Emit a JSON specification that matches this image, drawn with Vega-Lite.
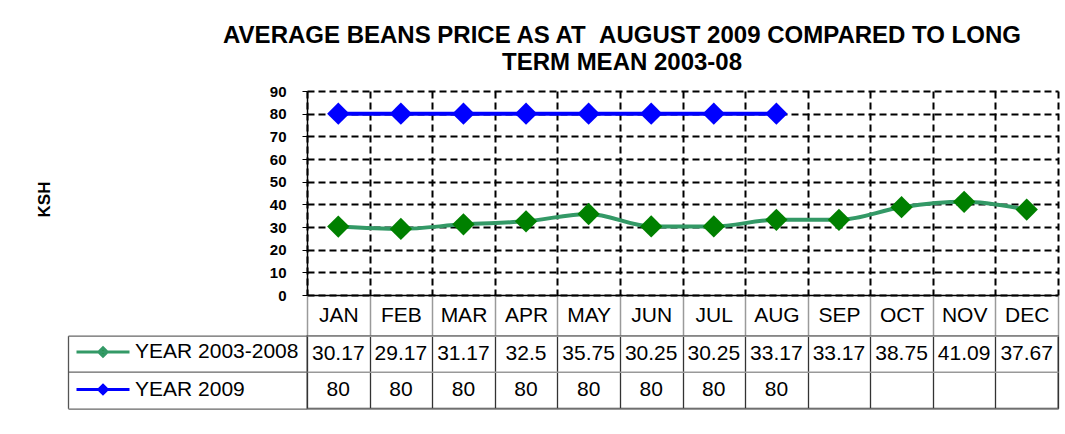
{
  "$schema": "https://vega.github.io/schema/vega-lite/v6.json",
  "autosize": "none",
  "padding": {"left": 307, "top": 91, "right": 758, "bottom": 343},
  "background": "white",
  "config": {
    "font": "Liberation Sans",
    "view": {"stroke": null},
    "axis": {"labelColor": "#000", "titleColor": "#000"}
  },
  "title": {
    "text": ["AVERAGE BEANS PRICE AS AT \u00a0AUGUST 2009 COMPARED TO LONG", "TERM MEAN 2003-08"],
    "fontSize": 24,
    "fontWeight": "bold",
    "color": "#000",
    "lineHeight": 27,
    "anchor": "start",
    "frame": "group",
    "align": "center",
    "dx": 315,
    "offset": 9
  },
  "data": {
    "values": [
      {"month": "JAN", "m": 1, "series": "YEAR 2003-2008", "price": 30.17},
      {"month": "FEB", "m": 2, "series": "YEAR 2003-2008", "price": 29.17},
      {"month": "MAR", "m": 3, "series": "YEAR 2003-2008", "price": 31.17},
      {"month": "APR", "m": 4, "series": "YEAR 2003-2008", "price": 32.5},
      {"month": "MAY", "m": 5, "series": "YEAR 2003-2008", "price": 35.75},
      {"month": "JUN", "m": 6, "series": "YEAR 2003-2008", "price": 30.25},
      {"month": "JUL", "m": 7, "series": "YEAR 2003-2008", "price": 30.25},
      {"month": "AUG", "m": 8, "series": "YEAR 2003-2008", "price": 33.17},
      {"month": "SEP", "m": 9, "series": "YEAR 2003-2008", "price": 33.17},
      {"month": "OCT", "m": 10, "series": "YEAR 2003-2008", "price": 38.75},
      {"month": "NOV", "m": 11, "series": "YEAR 2003-2008", "price": 41.09},
      {"month": "DEC", "m": 12, "series": "YEAR 2003-2008", "price": 37.67},
      {"month": "JAN", "m": 1, "series": "YEAR 2009", "price": 80},
      {"month": "FEB", "m": 2, "series": "YEAR 2009", "price": 80},
      {"month": "MAR", "m": 3, "series": "YEAR 2009", "price": 80},
      {"month": "APR", "m": 4, "series": "YEAR 2009", "price": 80},
      {"month": "MAY", "m": 5, "series": "YEAR 2009", "price": 80},
      {"month": "JUN", "m": 6, "series": "YEAR 2009", "price": 80},
      {"month": "JUL", "m": 7, "series": "YEAR 2009", "price": 80},
      {"month": "AUG", "m": 8, "series": "YEAR 2009", "price": 80}
    ]
  },
  "bounds": "flush",
  "spacing": 40.7,
  "vconcat": [
    {
      "width": 751,
      "height": 204,
      "encoding": {
        "x": {
          "field": "month", "type": "nominal",
          "sort": ["JAN","FEB","MAR","APR","MAY","JUN","JUL","AUG","SEP","OCT","NOV","DEC"],
          "scale": {"type": "band", "paddingInner": 0, "paddingOuter": 0},
          "axis": {
            "title": null, "tickBand": "extent", "labelAngle": 0, "labelFontSize": 21,
            "labelBaseline": "middle", "labelPadding": -20.5, "tickSize": 40.7,
            "tickColor": "#9a9a9a", "tickWidth": 1.5, "domainColor": "#000", "domainWidth": 1.5,
            "grid": true, "gridColor": "#000", "gridDash": [7, 4], "gridWidth": 2, "gridOpacity": 1
          }
        },
        "y": {
          "field": "price", "type": "quantitative",
          "scale": {"domain": [0, 90], "nice": false},
          "axis": {
            "title": "KSH", "values": [0,10,20,30,40,50,60,70,80,90],
            "labelFontSize": 15, "labelFontWeight": "bold", "labelPadding": 16,
            "tickSize": 5, "tickColor": "#000", "domainColor": "#000", "domainWidth": 1.5,
            "grid": true, "gridColor": "#000", "gridDash": [7, 4], "gridWidth": 2, "gridOpacity": 1,
            "titleFontSize": 17, "titleFontWeight": "bold", "titleX": -263, "titleY": 108,
            "titleAlign": "center", "titleBaseline": "middle"
          }
        }
      },
      "layer": [
        {
          "mark": {"type": "line", "strokeWidth": 4, "interpolate": "monotone"},
          "encoding": {
            "order": {"field": "m", "type": "quantitative"},
            "stroke": {
              "field": "series", "type": "nominal",
              "scale": {"domain": ["YEAR 2003-2008", "YEAR 2009"], "range": ["#339966", "#0000ff"]},
              "legend": {
                "orient": "none", "legendX": -215.5, "legendY": 249.5, "title": null,
                "symbolType": "M-2.65,0H2.65M0,-0.42L0.42,0L0,0.42L-0.42,0Z",
                "symbolSize": 400, "symbolStrokeWidth": 3,
                "labelFontSize": 21, "labelColor": "#000", "labelOffset": 20.5,
                "rowPadding": 15.5, "padding": 0, "labelLimit": 400,
                "encode": {"symbols": {"update": {"fill": {"scale": "fill", "field": "value"}, "fillOpacity": {"value": 1}, "opacity": {"value": 1}}}}
              }
            }
          }
        },
        {
          "mark": {"type": "point", "shape": "diamond", "filled": true, "size": 500, "opacity": 1},
          "encoding": {
            "fill": {
              "field": "series", "type": "nominal",
              "scale": {"domain": ["YEAR 2003-2008", "YEAR 2009"], "range": ["#008000", "#0000ff"]},
              "legend": null
            }
          }
        }
      ]
    },
    {
      "width": 751,
      "height": 72.6,
      "view": {"stroke": "#444", "strokeWidth": 1.3},
      "mark": {"type": "text", "fontSize": 21, "color": "#000"},
      "encoding": {
        "x": {
          "field": "month", "type": "nominal",
          "sort": ["JAN","FEB","MAR","APR","MAY","JUN","JUL","AUG","SEP","OCT","NOV","DEC"],
          "scale": {"type": "band", "paddingInner": 0, "paddingOuter": 0},
          "axis": {"title": null, "labels": false, "ticks": false, "domain": false, "grid": true, "tickBand": "extent", "gridColor": "#333", "gridWidth": 1.3, "gridOpacity": 1}
        },
        "y": {
          "field": "series", "type": "nominal",
          "sort": ["YEAR 2003-2008", "YEAR 2009"],
          "scale": {"type": "band", "paddingInner": 0, "paddingOuter": 0},
          "axis": {"title": null, "labels": false, "tickBand": "extent", "ticks": true, "tickSize": -239, "offset": 239, "tickColor": "#666", "tickWidth": 1.3, "domainColor": "#555", "domainWidth": 1.3, "grid": true, "gridColor": "#999", "gridWidth": 1.5, "gridOpacity": 1}
        },
        "text": {"field": "price", "type": "nominal"}
      }
    }
  ]
}
